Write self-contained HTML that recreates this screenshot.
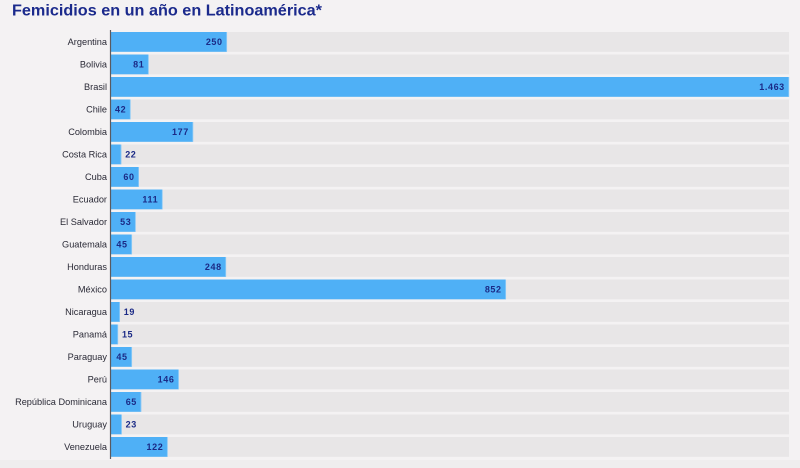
<!DOCTYPE html>
<html>
<head>
<meta charset="utf-8">
<style>
  html,body{margin:0;padding:0;background:#f4f2f3;}
  body{width:800px;height:468px;overflow:hidden;}
  svg{display:block;}
  .lbl{font-family:"Liberation Sans",sans-serif;font-size:9.2px;fill:#2a2a36;}
  .val{font-family:"Liberation Sans",sans-serif;font-size:9px;font-weight:bold;fill:#1b2a86;letter-spacing:0.6px;}
  .ttl{font-family:"Liberation Sans",sans-serif;font-size:16px;font-weight:bold;fill:#1b2a8c;}
</style>
</head>
<body>
<svg width="800" height="468" viewBox="0 0 800 468" xmlns="http://www.w3.org/2000/svg">
  <rect x="0" y="0" width="800" height="468" fill="#f4f2f3"/>
  <rect x="0" y="460" width="800" height="8" fill="#efedee"/>
  <text class="ttl" x="12" y="15.5" textLength="310" lengthAdjust="spacingAndGlyphs">Femicidios en un año en Latinoamérica*</text>
  <g id="rows"></g>
  <line x1="110.5" y1="30" x2="110.5" y2="459" stroke="#5a5a60" stroke-width="1.2"/>
</svg>
<script>
(function(){
  var data=[["Argentina",250,"250"],["Bolivia",81,"81"],["Brasil",1463,"1.463"],["Chile",42,"42"],["Colombia",177,"177"],["Costa Rica",22,"22"],["Cuba",60,"60"],["Ecuador",111,"111"],["El Salvador",53,"53"],["Guatemala",45,"45"],["Honduras",248,"248"],["México",852,"852"],["Nicaragua",19,"19"],["Panamá",15,"15"],["Paraguay",45,"45"],["Perú",146,"146"],["República Dominicana",65,"65"],["Uruguay",23,"23"],["Venezuela",122,"122"]];
  var g=document.getElementById("rows");
  var ns="http://www.w3.org/2000/svg";
  var x0=111, x1=789, scale=(x1-x0)/1463;
  function el(t,a,txt){var e=document.createElementNS(ns,t);for(var k in a)e.setAttribute(k,a[k]);if(txt!==undefined)e.textContent=txt;g.appendChild(e);return e;}
  data.forEach(function(d,i){
    var y=32+22.5*i, h=19.8;
    el("rect",{x:x0,y:y,width:x1-x0,height:h,fill:"#e8e6e7"});
    var w=d[1]*scale;
    el("rect",{x:x0,y:y,width:w,height:h,fill:"#4fb0f6"});
    el("rect",{x:x0+w-0.6,y:y,width:0.8,height:h,fill:"#8ccaf7"});
    var cy=y+h/2+3.3;
    el("text",{"class":"lbl",x:107,y:cy,"text-anchor":"end"},d[0]);
    var tw=d[2].length*5.6;
    if(w>tw+8){
      el("text",{"class":"val",x:x0+w-4.2,y:cy,"text-anchor":"end"},d[2]);
    }else{
      el("text",{"class":"val",x:x0+w+4,y:cy},d[2]);
    }
  });
})();
</script>
</body>
</html>
